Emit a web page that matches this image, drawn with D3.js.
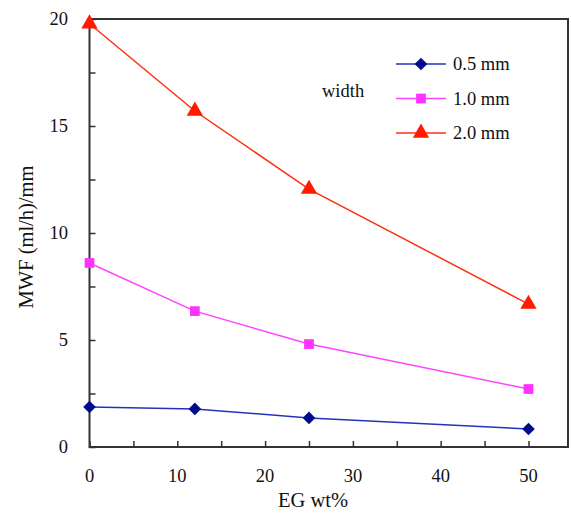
<!DOCTYPE html>
<html>
<head>
<meta charset="utf-8">
<script src="https://cdn.jsdelivr.net/npm/d3@7"></script>
<style>
  body { margin: 0; background: #fff; }
  text { font-family: "Liberation Serif", "Times New Roman", serif; fill: #111; }
</style>
</head>
<body>
<div id="chart"></div>
<script>
var eg = [0, 12, 25, 50];
var w05 = [1.87, 1.78, 1.36, 0.84];
var w10 = [8.6, 6.35, 4.81, 2.71];
var w20 = [19.78, 15.7, 12.05, 6.68];
var seriesNames = ["0.5 mm", "1.0 mm", "2.0 mm"];
var xTicks = [0, 10, 20, 30, 40, 50];
var yTicks = [0, 5, 10, 15, 20];

var width = 571, height = 514;
var svg = d3.select("#chart").append("svg")
    .attr("width", width)
    .attr("height", height);

var x = d3.scaleLinear().domain([0, 54.5]).range([89.5, 568]);
var y = d3.scaleLinear().domain([0, 20]).range([447, 19]);

// frame
svg.append("rect")
    .attr("x", x(0)).attr("y", y(20))
    .attr("width", x(54.5) - x(0)).attr("height", y(0) - y(20))
    .attr("fill", "none").attr("stroke", "#333").attr("stroke-width", 2);

// inside ticks
var xAxis = svg.append("g").attr("transform", "translate(0," + y(0) + ")")
    .call(d3.axisBottom(x).tickValues(d3.range(0, 55, 5)).tickSize(-6).tickFormat(""));
var yAxis = svg.append("g").attr("transform", "translate(" + x(0) + ",0)")
    .call(d3.axisLeft(y).tickValues(d3.range(0, 20.1, 2.5)).tickSize(-6).tickFormat(""));
[xAxis, yAxis].forEach(function(a) {
    a.select(".domain").remove();
    a.selectAll("line").attr("stroke", "#333").attr("stroke-width", 1.5);
});

svg.selectAll(".xl").data(xTicks).enter().append("text")
    .attr("x", function(d) { return x(d); })
    .attr("y", 482)
    .attr("text-anchor", "middle")
    .attr("font-size", 18.5)
    .text(function(d) { return d; });

svg.selectAll(".yl").data(yTicks).enter().append("text")
    .attr("x", 68)
    .attr("y", function(d) { return y(d) + 6; })
    .attr("text-anchor", "end")
    .attr("font-size", 18.5)
    .text(function(d) { return d; });

svg.append("text")
    .attr("x", 313).attr("y", 507)
    .attr("text-anchor", "middle")
    .attr("font-size", 20.5)
    .text("EG wt%");

svg.append("text")
    .attr("transform", "translate(33,237) rotate(-90)")
    .attr("text-anchor", "middle")
    .attr("font-size", 20.5)
    .text("MWF (ml/h)/mm");

var diamond = {
    draw: function(ctx, size) {
        var r = Math.sqrt(size / 2);
        ctx.moveTo(0, -r); ctx.lineTo(r, 0); ctx.lineTo(0, r); ctx.lineTo(-r, 0); ctx.closePath();
    }
};

var series = [
    {name: seriesNames[0], vals: w05, line: "#2233bb", fill: "#000c8c", sym: diamond, size: 80},
    {name: seriesNames[1], vals: w10, line: "#ff44ff", fill: "#ff33ff", sym: d3.symbolSquare, size: 95},
    {name: seriesNames[2], vals: w20, line: "#ff3010", fill: "#ff1a00", sym: d3.symbolTriangle, size: 115}
];

var line = d3.line()
    .x(function(d) { return x(d[0]); })
    .y(function(d) { return y(d[1]); });

series.forEach(function(s) {
    var pts = eg.map(function(e, i) { return [e, s.vals[i]]; });
    svg.append("path")
        .attr("d", line(pts))
        .attr("fill", "none")
        .attr("stroke", s.line)
        .attr("stroke-width", 1.5);
    svg.selectAll(null).data(pts).enter().append("path")
        .attr("d", d3.symbol().type(s.sym).size(s.size))
        .attr("transform", function(d) { return "translate(" + x(d[0]) + "," + y(d[1]) + ")"; })
        .attr("fill", s.fill);
});

// legend
var leg = svg.append("g");
series.forEach(function(s, i) {
    var ly = 64 + i * 34.5;
    leg.append("line")
        .attr("x1", 396).attr("x2", 446).attr("y1", ly).attr("y2", ly)
        .attr("stroke", s.line).attr("stroke-width", 1.5);
    leg.append("path")
        .attr("d", d3.symbol().type(s.sym).size(s.size))
        .attr("transform", "translate(421," + ly + ")")
        .attr("fill", s.fill);
    leg.append("text")
        .attr("x", 453).attr("y", ly + 6)
        .attr("font-size", 18.5)
        .text(s.name);
});
svg.append("text")
    .attr("x", 322).attr("y", 97)
    .attr("font-size", 18.5)
    .text("width");
</script>
</body>
</html>
